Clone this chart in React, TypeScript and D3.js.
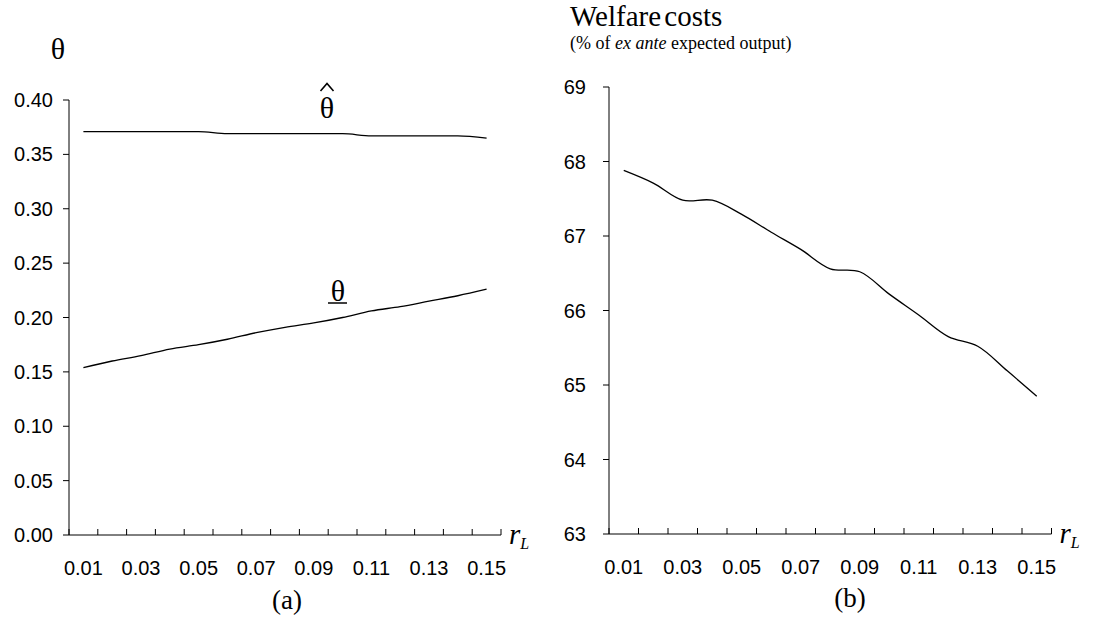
import React from "react";
import * as d3 from "d3";

// Loan rate grid (r_L)
const rates = [0.01, 0.02, 0.03, 0.04, 0.05, 0.06, 0.07, 0.08, 0.09, 0.1, 0.11, 0.12, 0.13, 0.14, 0.15];
const rateLabels = ["0.01", "0.03", "0.05", "0.07", "0.09", "0.11", "0.13", "0.15"];

// Panel (a): upper threshold θ̂ and lower threshold θ
const thetaHat = [0.371, 0.371, 0.371, 0.371, 0.371, 0.369, 0.369, 0.369, 0.369, 0.369, 0.367, 0.367, 0.367, 0.367, 0.365];
const thetaLow = [0.154, 0.16, 0.165, 0.171, 0.175, 0.18, 0.186, 0.191, 0.195, 0.2, 0.206, 0.21, 0.215, 0.22, 0.226];
const thetaTicks = [0, 0.05, 0.1, 0.15, 0.2, 0.25, 0.3, 0.35, 0.4];

// Panel (b): welfare costs, % of ex ante expected output
const welfare = [67.88, 67.71, 67.48, 67.48, 67.29, 67.05, 66.82, 66.56, 66.52, 66.22, 65.94, 65.65, 65.52, 65.19, 64.85];
const welfareTicks = [63, 64, 65, 66, 67, 68, 69];

const AX = "Liberation Sans, Arial, sans-serif";
const SERIF = "Liberation Serif, Times New Roman, serif";

type PanelProps = {
  x0: number;
  band: number;
  yTop: number;
  yBot: number;
  domain: [number, number];
  ticks: number[];
  fmt: (v: number) => string;
  labelGap: number;
  curve: d3.CurveFactory;
  series: number[][];
};

function Panel({ x0, band, yTop, yBot, domain, ticks, fmt, labelGap, curve, series }: PanelProps) {
  const x = d3
    .scaleBand<string>()
    .domain(rates.map(String))
    .range([x0, x0 + band * rates.length])
    .paddingInner(0)
    .paddingOuter(0);
  const y = d3.scaleLinear().domain(domain).range([yBot, yTop]);
  const cx = (i: number) => (x(String(rates[i])) as number) + x.bandwidth() / 2;
  const line = d3
    .line<number>()
    .x((_, i) => cx(i))
    .y((v) => y(v))
    .curve(curve);
  const xEnd = x0 + band * rates.length;
  const boundaries = d3.range(rates.length + 1).map((i) => x0 + i * band);

  return (
    <g>
      {/* value axis, ticks pointing outwards */}
      <line x1={x0} x2={x0} y1={yTop} y2={yBot} stroke="#000" strokeWidth={1} />
      {ticks.map((t) => (
        <g key={t}>
          <line x1={x0 - 6} x2={x0} y1={y(t)} y2={y(t)} stroke="#000" strokeWidth={1} />
          <text x={x0 - labelGap} y={y(t)} dy="0.35em" textAnchor="end" fontFamily={AX} fontSize={20}>
            {fmt(t)}
          </text>
        </g>
      ))}
      {/* category axis, ticks between categories pointing inwards */}
      <line x1={x0} x2={xEnd} y1={yBot} y2={yBot} stroke="#000" strokeWidth={1} />
      {boundaries.map((bx, i) => (
        <line key={i} x1={bx} x2={bx} y1={yBot} y2={yBot - 6} stroke="#000" strokeWidth={1} />
      ))}
      {rates.map((r, i) =>
        rateLabels.includes(r.toFixed(2)) ? (
          <text key={r} x={cx(i)} y={yBot + 33} dy="0.35em" textAnchor="middle" fontFamily={AX} fontSize={20}>
            {r.toFixed(2)}
          </text>
        ) : null
      )}
      <text x={xEnd + 8} y={yBot + 9} fontFamily={SERIF} fontStyle="italic" fontSize={29}>
        r<tspan fontSize={16} dy={5}>L</tspan>
      </text>
      {series.map((s, k) => (
        <path key={k} d={line(s) as string} fill="none" stroke="#000" strokeWidth={1.3} />
      ))}
    </g>
  );
}

export default function App() {
  return (
    <svg width={1105} height={632} style={{ position: "absolute", left: 0, top: 0, background: "#fff" }}>
      <rect width={1105} height={632} fill="#fff" />
      {/* Panel (a) */}
      <text x={58} y={48} dy="0.35em" textAnchor="middle" fontFamily={SERIF} fontSize={30}>
        θ
      </text>
      <Panel
        x0={69}
        band={28.8}
        yTop={100}
        yBot={535}
        domain={[0, 0.4]}
        ticks={thetaTicks}
        fmt={(v) => v.toFixed(2)}
        labelGap={16}
        curve={d3.curveMonotoneX}
        series={[thetaHat, thetaLow]}
      />
      {/* θ̂ label: theta with a drawn circumflex */}
      <text x={327} y={107} dy="0.35em" textAnchor="middle" fontFamily={SERIF} fontSize={30}>
        θ
      </text>
      <path d="M320.5,91 L327,83.5 L333.5,91" fill="none" stroke="#000" strokeWidth={1.6} />
      {/* θ label: theta with underline */}
      <text x={338} y={290} dy="0.35em" textAnchor="middle" fontFamily={SERIF} fontSize={30}>
        θ
      </text>
      <line x1={328} x2={347} y1={303} y2={303} stroke="#000" strokeWidth={1.5} />
      <text x={287} y={600} dy="0.35em" textAnchor="middle" fontFamily={SERIF} fontSize={27}>
        (a)
      </text>

      {/* Panel (b) */}
      <text x={570} y={26} fontFamily={SERIF} fontSize={29} wordSpacing={-4}>
        Welfare costs
      </text>
      <text x={570} y={49} fontFamily={SERIF} fontSize={18}>
        (% of <tspan fontStyle="italic">ex ante</tspan> expected output)
      </text>
      <Panel
        x0={609}
        band={29.5}
        yTop={87}
        yBot={534}
        domain={[63, 69]}
        ticks={welfareTicks}
        fmt={(v) => String(v)}
        labelGap={23}
        curve={d3.curveCatmullRom.alpha(0.5)}
        series={[welfare]}
      />
      <text x={850} y={598} dy="0.35em" textAnchor="middle" fontFamily={SERIF} fontSize={27}>
        (b)
      </text>
    </svg>
  );
}
